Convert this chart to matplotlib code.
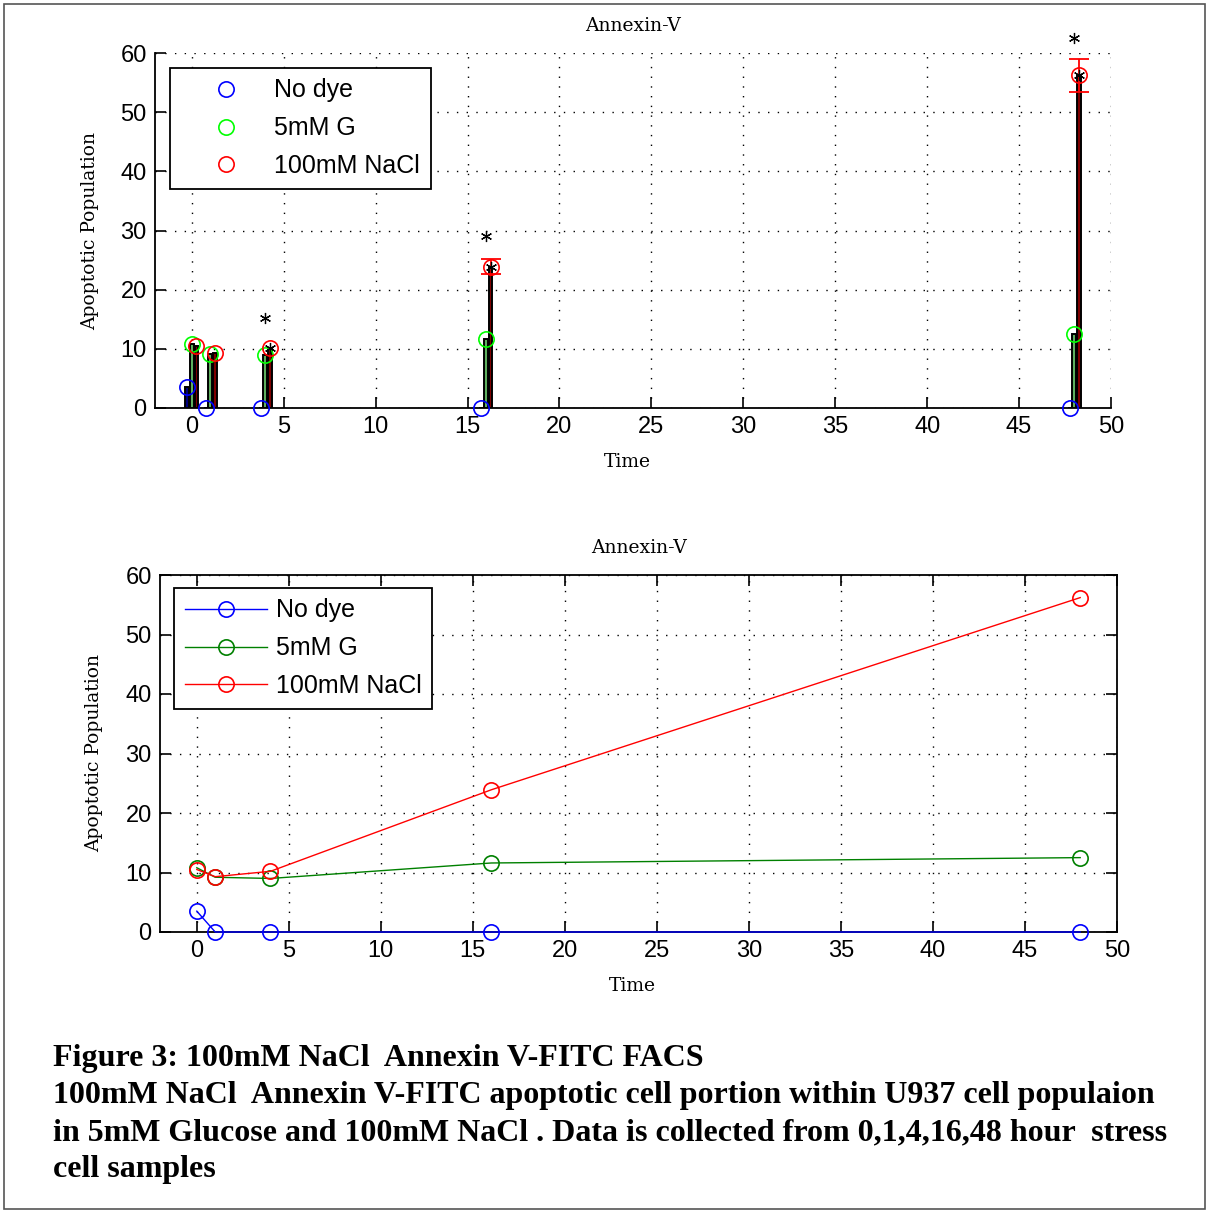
import matplotlib
matplotlib.use("Agg")
import matplotlib.pyplot as plt
from matplotlib.lines import Line2D
from matplotlib.patches import Rectangle

# ---------------- data ----------------
times = [0, 1, 4, 16, 48]
series_names = ["No dye", "5mM G", "100mM NaCl"]
no_dye = [3.5, 0.0, 0.0, 0.0, 0.0]
glucose = [10.8, 9.2, 9.0, 11.6, 12.5]
nacl = [10.5, 9.3, 10.2, 23.9, 56.2]
nacl_err = [0.0, 0.0, 0.0, 1.3, 2.8]
sig_times = [4, 16, 48]
sig_y = [15.2, 29.0, 62.5]
xticks = [0, 5, 10, 15, 20, 25, 30, 35, 40, 45, 50]
yticks = [0, 10, 20, 30, 40, 50, 60]
title = "Annexin-V"
xlabel = "Time"
ylabel = "Apoptotic Population"
caption = [
    "Figure 3: 100mM NaCl  Annexin V-FITC FACS",
    "100mM NaCl  Annexin V-FITC apoptotic cell portion within U937 cell populaion",
    "in 5mM Glucose and 100mM NaCl . Data is collected from 0,1,4,16,48 hour  stress",
    "cell samples",
]

# ---------------- style ----------------
W, H = 1208, 1214
fig = plt.figure(figsize=(W / 100, H / 100), dpi=100)
fig.patch.set_facecolor("white")

tick_font = dict(family="Liberation Sans", size=17)
serif_font = dict(family="DejaVu Serif", size=13.5)
grid_ls = (0, (1, 6))

marker_cols = ["#0000ff", "#00ff00", "#ff0000"]
bar_faces = ["#00007f", "#5fb05f", "#7f0000"]
line_cols = ["#0000ff", "#008000", "#ff0000"]
offsets = [-0.25, 0.0, 0.25]
vals = [no_dye, glucose, nacl]


def px_axes(left, top, right, bottom):
    return fig.add_axes([left / W, 1 - bottom / H, (right - left) / W, (bottom - top) / H])


def style_axes(ax, box):
    ax.set_xlim(-2, 50)
    ax.set_ylim(0, 60)
    ax.set_xticks(xticks)
    ax.set_yticks(yticks)
    ax.grid(True, color="black", linestyle=grid_ls, linewidth=1.0)
    ax.set_axisbelow(True)
    for lab in ax.get_xticklabels() + ax.get_yticklabels():
        lab.set_fontfamily(tick_font["family"])
        lab.set_fontsize(tick_font["size"])
    ax.tick_params(direction="in", length=8, width=1.2, top=box, right=box, pad=6)
    for s in ["left", "bottom", "top", "right"]:
        ax.spines[s].set_linewidth(1.3)
    if not box:
        ax.spines["top"].set_visible(False)
        ax.spines["right"].set_visible(False)
    ax.set_title(title, fontdict=serif_font, pad=16)
    ax.set_xlabel(xlabel, fontdict=serif_font)
    ax.set_ylabel(ylabel, fontdict=serif_font)


# ---------------- top chart (bars / stems) ----------------
ax1 = px_axes(155, 53, 1111, 408)
for k in range(3):
    xs = [t + offsets[k] for t in times]
    ax1.bar(xs, vals[k], width=0.2, color=bar_faces[k], edgecolor="black",
            linewidth=1.4, zorder=3)
for k in range(3):
    xs = [t + offsets[k] for t in times]
    ax1.plot(xs, vals[k], linestyle="none", marker="o", markersize=11,
             markerfacecolor="none", markeredgecolor=marker_cols[k],
             markeredgewidth=1.2, zorder=5, clip_on=False)
# error bars on NaCl
ex = [t + offsets[2] for t, e in zip(times, nacl_err) if e > 0]
ey = [v for v, e in zip(nacl, nacl_err) if e > 0]
ee = [e for e in nacl_err if e > 0]
ax1.errorbar(ex, ey, yerr=ee, fmt="none", ecolor="#ff0000", elinewidth=1.3,
             capsize=7, capthick=1.3, zorder=6, clip_on=False)
# significance stars on data points and above
star_x = [t + offsets[2] for t in sig_times]
star_y = [nacl[times.index(t)] for t in sig_times]
ax1.plot(star_x, star_y, linestyle="none", marker=(6, 2, 0), markersize=8,
         color="black", markeredgewidth=0.9, zorder=7, clip_on=False)
for t, y in zip(sig_times, sig_y):
    ax1.plot([t], [y], linestyle="none", marker=(6, 2, 0), markersize=8,
             color="black", markeredgewidth=0.9, zorder=7, clip_on=False)

style_axes(ax1, box=False)
ax1.xaxis.set_label_coords(0.494, -0.127)
ax1.yaxis.set_label_coords(-0.0585, 0.5)
h1 = [Line2D([], [], linestyle="none", marker="o", markersize=11,
             markerfacecolor="none", markeredgecolor=c, markeredgewidth=1.2)
      for c in marker_cols]
leg1 = ax1.legend(h1, series_names, loc="upper left",
                  bbox_to_anchor=((170 - 155) / 956, (408 - 68) / 355),
                  borderaxespad=0, prop=dict(family="Liberation Sans", size=18),
                  frameon=True, fancybox=False, framealpha=1, edgecolor="black",
                  handlelength=3.6, handletextpad=0.15, labelspacing=0.55,
                  borderpad=0.42)
leg1.get_frame().set_linewidth(1.3)

# ---------------- bottom chart (lines) ----------------
ax2 = px_axes(160, 575, 1117, 932)
for k in range(3):
    ax2.plot(times, vals[k], color=line_cols[k], linewidth=1.0, marker="o",
             markersize=11, markerfacecolor="none",
             markeredgecolor=marker_cols[k] if k != 1 else line_cols[1],
             markeredgewidth=1.2, zorder=4, clip_on=False, label=series_names[k])
style_axes(ax2, box=True)
ax2.xaxis.set_label_coords(0.494, -0.126)
ax2.yaxis.set_label_coords(-0.0595, 0.5)
leg2 = ax2.legend(loc="upper left",
                  bbox_to_anchor=((174 - 160) / 957, (932 - 588) / 357),
                  borderaxespad=0, prop=dict(family="Liberation Sans", size=18),
                  frameon=True, fancybox=False, framealpha=1, edgecolor="black",
                  handlelength=3.3, handletextpad=0.35, labelspacing=0.55,
                  borderpad=0.42)
leg2.get_frame().set_linewidth(1.3)

# ---------------- caption ----------------
baselines = [1066, 1103, 1140, 1177]
for line, b in zip(caption, baselines):
    fig.text(53 / W, 1 - b / H, line, family="Liberation Serif", weight="bold",
             size=23.0, va="baseline", ha="left")

# frame
fig.add_artist(Rectangle((4 / W, 1 - 1209 / H), (1205 - 4) / W, (1209 - 4) / H,
                         transform=fig.transFigure, fill=False,
                         edgecolor="#555555", linewidth=1.2))

fig.savefig("out.png", dpi=100)
